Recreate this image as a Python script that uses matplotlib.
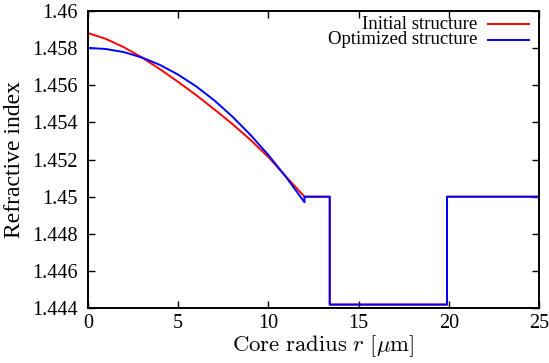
import matplotlib
matplotlib.use("Agg")
import matplotlib.pyplot as plt

plt.rcParams["font.family"] = ["Liberation Serif", "DejaVu Serif"]
plt.rcParams["mathtext.fontset"] = "cm"

# core profiles
r_core = [0, 1, 2, 3, 4, 5, 6, 7, 8, 9, 10, 11, 12]
n_initial = [1.4588, 1.45848, 1.45803, 1.45748, 1.45685, 1.45617, 1.45546,
             1.45470, 1.45391, 1.45306, 1.45213, 1.45105, 1.4500]
n_optimized = [1.4580, 1.45794, 1.45777, 1.45748, 1.45708, 1.45656, 1.45593,
               1.45518, 1.45431, 1.45333, 1.45224, 1.45103, 1.4497]

# trench + cladding, same for both
r_clad = [12, 13.4, 13.4, 19.9, 19.9, 25]
n_clad = [1.45, 1.45, 1.4442, 1.4442, 1.45, 1.45]

x_ticks = [0, 5, 10, 15, 20, 25]
y_ticks = [1.444, 1.446, 1.448, 1.45, 1.452, 1.454, 1.456, 1.458, 1.46]
y_labels = ["1.444", "1.446", "1.448", "1.45", "1.452", "1.454", "1.456", "1.458", "1.46"]

fig = plt.figure(figsize=(5.49, 3.63), dpi=100)
ax = fig.add_axes([0.1603, 0.1507, 0.8215, 0.8198])

ax.plot(r_core + r_clad, n_initial + n_clad, color="#ff0000", lw=1.4)
ax.plot(r_core + r_clad, n_optimized + n_clad, color="#0000ff", lw=1.4)

ax.set_xlim(0, 25)
ax.set_ylim(1.444, 1.46)
ax.set_xticks(x_ticks)
ax.set_xticklabels([str(t) for t in x_ticks])
ax.set_yticks(y_ticks)
ax.set_yticklabels(y_labels)
ax.tick_params(direction="in", top=True, right=True, length=5, width=1,
               labelsize=14.5)
ax.tick_params(axis="y", pad=7.5)
ax.tick_params(axis="x", pad=4)
for s in ax.spines.values():
    s.set_linewidth(1.4)

ax.set_xlabel(r"$\mathrm{Core\ radius}\ r\ [\mu\mathrm{m}]$", fontsize=16.4)
ax.xaxis.set_label_coords(0.521, -0.083, transform=ax.transAxes)
ax.xaxis.label.set_va("top")
ax.set_ylabel("Refractive index", fontsize=17, labelpad=5)

# gnuplot style key: text right aligned, sample on the right
key = [("Initial structure", "#ff0000"), ("Optimized structure", "#0000ff")]
for i, (lab, col) in enumerate(key):
    yk = 0.955 - i * 0.052
    ax.text(0.863, yk, lab, transform=ax.transAxes, ha="right", va="center",
            fontsize=13.5)
    ax.plot([0.887, 0.978], [yk, yk], transform=ax.transAxes, color=col, lw=1.4)

fig.savefig("out.png", dpi=100)
